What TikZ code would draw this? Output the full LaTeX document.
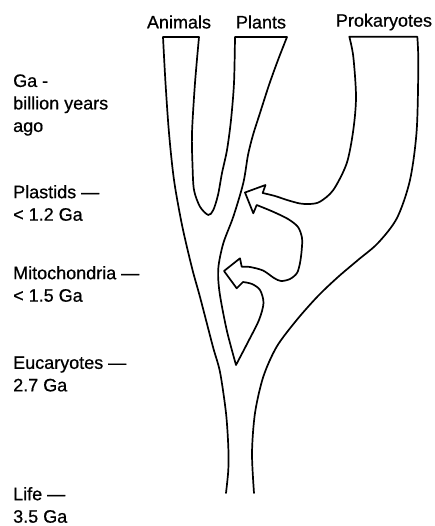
\documentclass[tikz,border=0pt]{standalone}
\usepackage{fontspec}
\setmainfont{Liberation Sans}[FakeBold=0.7]

\begin{document}
\begin{tikzpicture}[
    x=1pt, y=-1pt,
    font=\fontsize{18}{22.5}\selectfont,
    taxon/.style={inner sep=0pt},
    era/.style={anchor=west, align=left, inner sep=0pt},
    branch/.style={line width=1.7pt, line join=round, line cap=round},
]
\useasboundingbox (0,0) rectangle (435,526);

% --- lineages at the top ---
\node[taxon] (animals)     at (179,22) {Animals};
\node[taxon] (plants)      at (261,22) {Plants};
\node[taxon] (prokaryotes) at (384,22) {Prokaryotes};

% --- time scale on the left ---
\node[era] (ga)      at (13,105) {Ga -\\billion years\\ago};
\node[era] (plastid) at (13,203) {Plastids —\\< 1.2 Ga};
\node[era] (mito)    at (13,284) {Mitochondria —\\< 1.5 Ga};
\node[era] (euca)    at (13,374) {Eucaryotes —\\2.7 Ga};
\node[era] (life)    at (13,505) {Life —\\3.5 Ga};

% --- the tree: one outline from the left foot of the stem to the right foot ---
\draw[branch]
  % stem, left side, up to the animals
  plot[smooth] coordinates {(226,493) (228.3,470) (228.3,447) (226,413)
    (220,372) (213,347) (200,297) (192,268) (182,225) (174,180)
    (169,133) (165.5,83) (163,37)}
  -- (199,37)
  % gap between animals and plants
  -- plot[smooth] coordinates {(199,37) (195,83) (192,133) (192.5,165)
    (194,190) (200,206.7) (208.3,215) (213.3,210) (218,195) (222,173)
    (227,150) (231,120) (234,83) (235,37)}
  -- (287,37)
  % plants, right side, down to the eucaryote fork
  -- plot[smooth] coordinates {(287,37) (278,60) (269,85) (260,113)
    (253,135) (248,155) (243.3,183) (233.3,216.7) (223.3,243.3)
    (218.3,268.3) (219.5,292) (226.7,330) (236,365)}
  % mitochondria arrow
  -- plot[smooth] coordinates {(236,365) (248,342) (259,320) (263.5,303)
    (260,290) (252,284) (243,282)}
  -- (236.7,288.3) -- (224,271) -- (240,258.3) -- (241.7,266.7)
  -- plot[smooth] coordinates {(241.7,266.7) (250,267) (263,270.5)
    (274,278) (281,281) (290,279) (297,273) (300,263) (301.7,250)
    (302,238) (298,227) (288,219) (273,211.7) (256.7,205)}
  % plastid arrow
  -- (253.3,213.3) -- (245,192.5) -- (265.5,185) -- (262.7,193)
  -- plot[smooth] coordinates {(262.7,193) (275,196) (287,200)
    (300,203.5) (310,204) (320,201.7) (333.3,190) (346.7,163.3)
    (353.3,130) (356,96.7) (353.3,56.7) (349.3,36.7)}
  -- (417.3,36.7)
  % prokaryotes, right side, down to the stem
  -- plot[smooth] coordinates {(417.3,36.7) (418.3,63.3) (416.7,130)
    (410,180) (397,218) (378,243) (358,260) (338,277) (318,296)
    (296.7,320) (276.7,346.7) (263.3,376.7) (255,413) (252,453) (254,493)};
\end{tikzpicture}
\end{document}
